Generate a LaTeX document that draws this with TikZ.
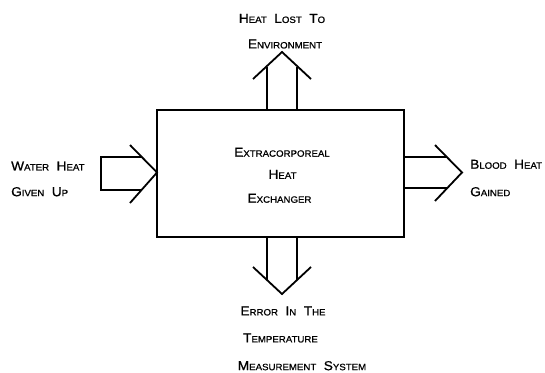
\documentclass[tikz,border=0pt]{standalone}
\usepackage{fontspec}
\newfontfamily\plotfont[FakeStretch=1.05,FakeBold=0.8]{Liberation Sans}
\newcommand\pcap[2]{{\fontsize{13}{15}\selectfont #1}{\fontsize{9.2}{11}\selectfont #2}}
\newcommand\gap{\hspace{7.5pt}}
\begin{document}
\begin{tikzpicture}[x=1pt,y=-1pt,
  wire/.style={line width=1.8pt,line join=miter},
  lbl/.style={inner sep=0pt,font=\plotfont},
  lblw/.style={lbl,anchor=west}]
\useasboundingbox (0,0) rectangle (545,372);
% main box
\node[draw,line width=1.8pt,minimum width=247pt,minimum height=127pt,inner sep=0pt] (ex) at (280.5,173.5) {};
\node[lbl] (ex1) at (282,152.3) {\pcap{E}{XTRACORPOREAL}};
\node[lbl] (ex2) at (282.5,174.3) {\pcap{H}{EAT}};
\node[lbl] (ex3) at (279.5,198.3) {\pcap{E}{XCHANGER}};
% top arrow
\coordinate (t1) at (267,110);
\coordinate (t2) at (297,110);
\coordinate (tl) at (267,66.5);
\coordinate (tr) at (297,66.5);
\coordinate (tbl) at (253,79);
\coordinate (ttip) at (282,52);
\coordinate (tbr) at (311,79);
\draw[wire] (t1) -- (tl);
\draw[wire] (t2) -- (tr);
\draw[wire] (tbl) -- (ttip) -- (tbr);
% bottom arrow
\coordinate (b1) at (267,237);
\coordinate (b2) at (297,237);
\coordinate (bl) at (267,280);
\coordinate (br) at (297,280);
\coordinate (bbl) at (253,267);
\coordinate (btip) at (282,294);
\coordinate (bbr) at (311,267);
\draw[wire] (b1) -- (bl);
\draw[wire] (b2) -- (br);
\draw[wire] (bbl) -- (btip) -- (bbr);
% left arrow
\coordinate (l1) at (142,157);
\coordinate (l2) at (141.5,190);
\coordinate (lbt) at (130,145);
\coordinate (ltip) at (157,172.5);
\coordinate (lbb) at (130,203);
\draw[wire] (l1) -- (101,157) -- (101,190) -- (l2);
\draw[wire] (lbt) -- (ltip) -- (lbb);
% right arrow
\coordinate (r1) at (404,157);
\coordinate (r2) at (404,188);
\coordinate (re1) at (446.5,157);
\coordinate (re2) at (447,188);
\coordinate (rbt) at (435,145);
\coordinate (rtip) at (462,172.5);
\coordinate (rbb) at (435,201);
\draw[wire] (r1) -- (re1);
\draw[wire] (r2) -- (re2);
\draw[wire] (rbt) -- (rtip) -- (rbb);
% labels
\node[lbl] (top1) at (282,18.5) {\pcap{H}{EAT}\gap\pcap{L}{OST}\gap\pcap{T}{O}};
\node[lbl] (top2) at (285,44) {\pcap{E}{NVIRONMENT}};
\node[lblw] (w1) at (11,166) {\pcap{W}{ATER}\gap\pcap{H}{EAT}};
\node[lblw] (w2) at (11,191.7) {\pcap{G}{IVEN}\gap\pcap{U}{P}};
\node[lblw] (bh1) at (470,164.3) {\pcap{B}{LOOD}\gap\pcap{H}{EAT}};
\node[lblw] (bh2) at (470,191.7) {\pcap{G}{AINED}};
\node[lbl] (e1) at (283,311) {\pcap{E}{RROR}\gap\pcap{I}{N}\gap\pcap{T}{HE}};
\node[lbl] (e2) at (280.5,338) {\pcap{T}{EMPERATURE}};
\node[lbl] (e3) at (302,365.7) {\pcap{M}{EASUREMENT}\gap\pcap{S}{YSTEM}};
\end{tikzpicture}
\end{document}
